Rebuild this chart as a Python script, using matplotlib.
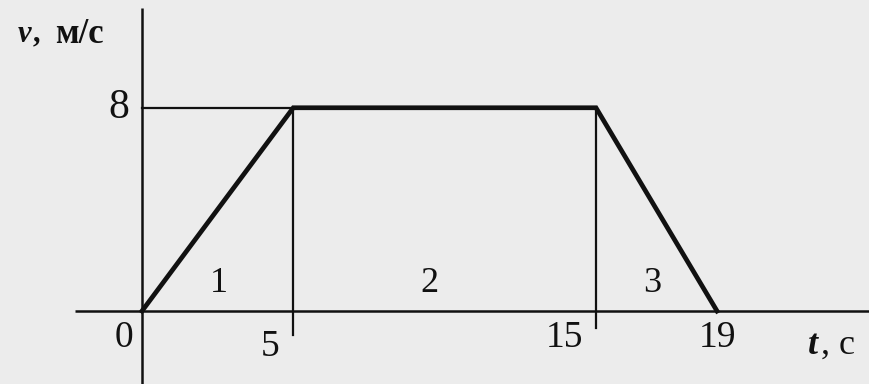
import matplotlib
matplotlib.use("Agg")
import matplotlib.pyplot as plt

# data
t_points = [0, 5, 15, 19]
v_points = [0, 8, 8, 0]
x_tick_values = [0, 5, 15, 19]
x_tick_labels = ["0", "5", "15", "19"]
y_tick_values = [8]
y_tick_labels = ["8"]
segment_labels = ["1", "2", "3"]
segment_centers = [2.55, 9.5, 16.85]

BG = "#ececec"
INK = "#111111"
SERIF = ["Liberation Serif", "DejaVu Serif"]

fig = plt.figure(figsize=(8.69, 3.84), dpi=100, facecolor=BG)
ax = fig.add_axes([0, 0, 1, 1])
ax.set_facecolor(BG)
ax.set_xlim(-4.69, 24.02)
ax.set_ylim(-2.87, 12.24)
ax.axis("off")

# axes lines
ax.plot([-2.2, 24.02], [0, 0], color=INK, lw=1.8, solid_capstyle="butt")
ax.plot([0, 0], [-2.87, 11.93], color=INK, lw=1.8, solid_capstyle="butt")

# guide lines
ax.plot([0, t_points[1]], [v_points[1], v_points[1]], color=INK, lw=1.6)
ax.plot([t_points[1], t_points[1]], [-0.95, v_points[1]], color=INK, lw=1.6)
ax.plot([t_points[2], t_points[2]], [-0.65, v_points[2]], color=INK, lw=1.6)

# graph
ax.plot(t_points, v_points, color=INK, lw=3.4, solid_joinstyle="miter")

# tick labels
x_offsets = [-0.6, -0.75, -1.05, 0.0]
y_pos = [-1.05, -1.4, -1.05, -1.05]
for tv, lab, dx, yy in zip(x_tick_values, x_tick_labels, x_offsets, y_pos):
    ax.text(tv + dx, yy, lab, ha="center", va="center", fontsize=27,
            family=SERIF, color=INK)
for vv, lab in zip(y_tick_values, y_tick_labels):
    ax.text(-0.75, vv, lab, ha="center", va="center", fontsize=30,
            family=SERIF, color=INK)

# segment labels
for c, lab in zip(segment_centers, segment_labels):
    ax.text(c, 1.1, lab, ha="center", va="center", fontsize=26,
            family=SERIF, color=INK)

# axis titles
ax.text(-4.1, 10.9, "v", ha="left", va="center", fontsize=22, family=SERIF,
        style="italic", weight="bold", color=INK)
ax.text(-3.62, 10.9, ",", ha="left", va="center", fontsize=22, family=SERIF,
        weight="bold", color=INK)
ax.text(-2.88, 10.9, "м/с", ha="left", va="center", fontsize=25, family=SERIF,
        weight="bold", color=INK)
ax.text(22.0, -1.35, "t", ha="left", va="center", fontsize=26, family=SERIF,
        style="italic", weight="bold", color=INK)
ax.text(22.45, -1.35, ", c", ha="left", va="center", fontsize=26, family=SERIF,
        color=INK)

fig.savefig("out.png", dpi=100, facecolor=BG)
